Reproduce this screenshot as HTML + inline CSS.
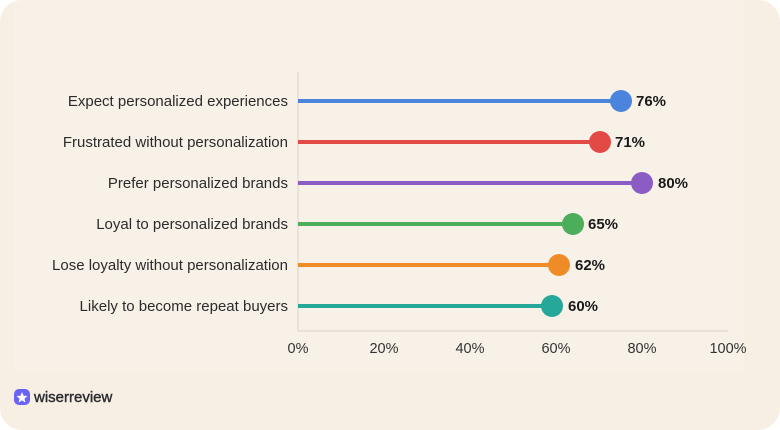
<!DOCTYPE html>
<html><head><style>
html,body{margin:0;padding:0;background:#fff;}
.card{position:relative;width:780px;height:430px;background:#f7efe4;border-radius:22px;overflow:hidden;font-family:"Liberation Sans",sans-serif;}
</style></head><body>
<div class="card">
<svg width="780" height="430" style="position:absolute;left:0;top:0">
<rect x="14" y="0" width="730" height="372" fill="#f8f1e8" rx="4"/>
<line x1="298" y1="72" x2="298" y2="331" stroke="#d8d2ca" stroke-width="1"/>
<line x1="298" y1="331" x2="728" y2="331" stroke="#d8d2ca" stroke-width="1"/>
<g font-size="14.5" fill="#333" text-anchor="middle">
<text x="298" y="353">0%</text><text x="384" y="353">20%</text><text x="470" y="353">40%</text><text x="556" y="353">60%</text><text x="642" y="353">80%</text><text x="728" y="353">100%</text>
</g>
<g font-size="15" fill="#2b2b2b" text-anchor="end">
<text x="288" y="106">Expect personalized experiences</text>
<text x="288" y="147">Frustrated without personalization</text>
<text x="288" y="188">Prefer personalized brands</text>
<text x="288" y="229">Loyal to personalized brands</text>
<text x="288" y="270">Lose loyalty without personalization</text>
<text x="288" y="311">Likely to become repeat buyers</text>
</g>
<g stroke-width="4">
<line x1="298" y1="101" x2="621" y2="101" stroke="#4a84dc"/><circle cx="621" cy="101" r="11" fill="#4a84dc"/>
<line x1="298" y1="142" x2="600" y2="142" stroke="#e24a45"/><circle cx="600" cy="142" r="11" fill="#e24a45"/>
<line x1="298" y1="183" x2="642" y2="183" stroke="#8a5cc4"/><circle cx="642" cy="183" r="11" fill="#8a5cc4"/>
<line x1="298" y1="224" x2="573" y2="224" stroke="#4cae5a"/><circle cx="573" cy="224" r="11" fill="#4cae5a"/>
<line x1="298" y1="265" x2="559" y2="265" stroke="#f08c28"/><circle cx="559" cy="265" r="11" fill="#f08c28"/>
<line x1="298" y1="306" x2="552" y2="306" stroke="#25a79a"/><circle cx="552" cy="306" r="11" fill="#25a79a"/>
</g>
<g font-size="15" font-weight="bold" fill="#1a1a1a">
<text x="636" y="106">76%</text><text x="615" y="147">71%</text><text x="658" y="188">80%</text>
<text x="588" y="229">65%</text><text x="575" y="270">62%</text><text x="568" y="311">60%</text>
</g>
<rect x="14" y="389" width="16" height="16" rx="5" fill="#6a63f6"/>
<polygon points="22,392 23.6,395.8 27.5,396 24.5,398.6 25.4,402.5 22,400.4 18.6,402.5 19.5,398.6 16.5,396 20.4,395.8" fill="#fff"/>
<text x="34" y="402" font-size="15" fill="#2c2c30" stroke="#2c2c30" stroke-width="0.4">wiserreview</text>
</svg>
</div>
</body></html>
